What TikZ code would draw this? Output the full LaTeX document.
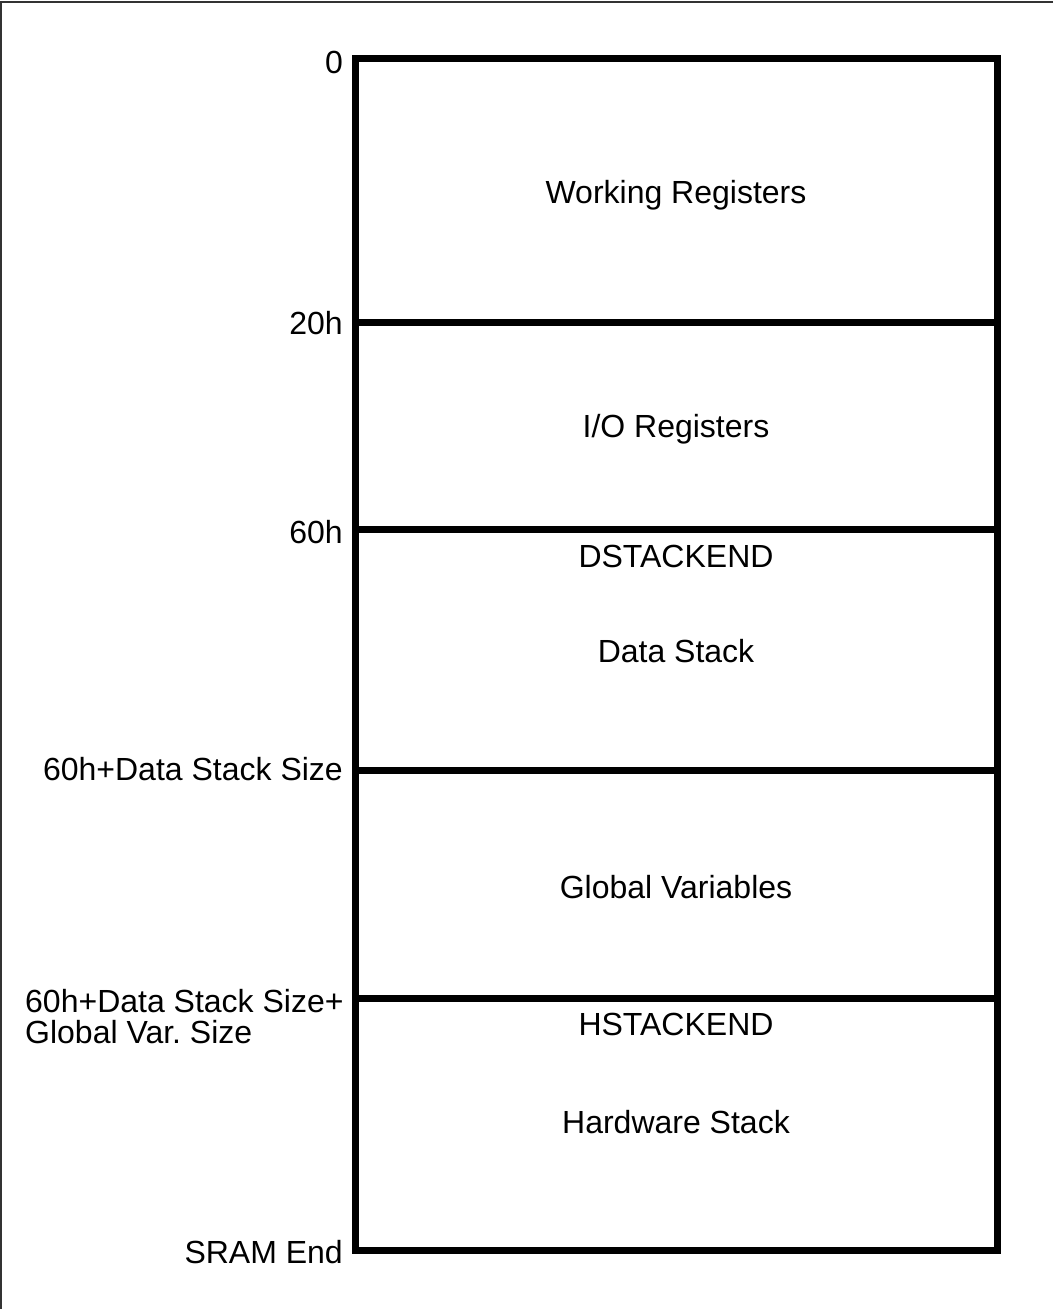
\documentclass[tikz,border=0pt]{standalone}
\usepackage{fontspec}
\setmainfont{Liberation Sans}
\begin{document}
\begin{tikzpicture}[x=1pt,y=-1pt,
  thick line/.style={line width=7pt,line join=miter,line cap=rect},
  frame line/.style={line width=2pt,draw=black!80},
  lbl/.style={font=\fontsize{32}{31}\selectfont,inner sep=0pt,anchor=base east},
  sec/.style={font=\fontsize{32}{31}\selectfont,inner sep=0pt,anchor=base}]
\useasboundingbox (0,0) rectangle (1053,1309);
% partial frame (top and left)
\draw[frame line] (1053,2) -- (1,2) -- (1,1309);
% memory map
\coordinate (tl) at (355,58.5);
\coordinate (br) at (997,1250);
\draw[thick line] (tl) rectangle (br);
\foreach \yy/\nm in {322/a,529.5/b,770/c,998/d}{
  \coordinate (l\nm) at (355,\yy);
  \coordinate (r\nm) at (997,\yy);
  \draw[thick line,line cap=butt] (l\nm) -- (r\nm);
}
% address labels
\node[lbl] (n0) at (343,73) {0};
\node[lbl] (n20) at (343,334) {20h};
\node[lbl] (n60) at (343,543) {60h};
\node[lbl] (nds) at (343,780) {60h+Data Stack Size};
\node[font=\fontsize{32}{31}\selectfont,inner sep=0pt,anchor=base west,align=left] (ngv) at (25,1043) {60h+Data Stack Size+\\Global Var.\ Size};
\node[lbl] (nend) at (343,1263) {SRAM End};
% section labels
\node[sec] (wr) at (676,203) {Working Registers};
\node[sec] (io) at (676,437) {I/O Registers};
\node[sec] (dse) at (676,567) {DSTACKEND};
\node[sec] (dst) at (676,662) {Data Stack};
\node[sec] (gv) at (676,898) {Global Variables};
\node[sec] (hse) at (676,1035) {HSTACKEND};
\node[sec] (hst) at (676,1133) {Hardware Stack};
\end{tikzpicture}
\end{document}
